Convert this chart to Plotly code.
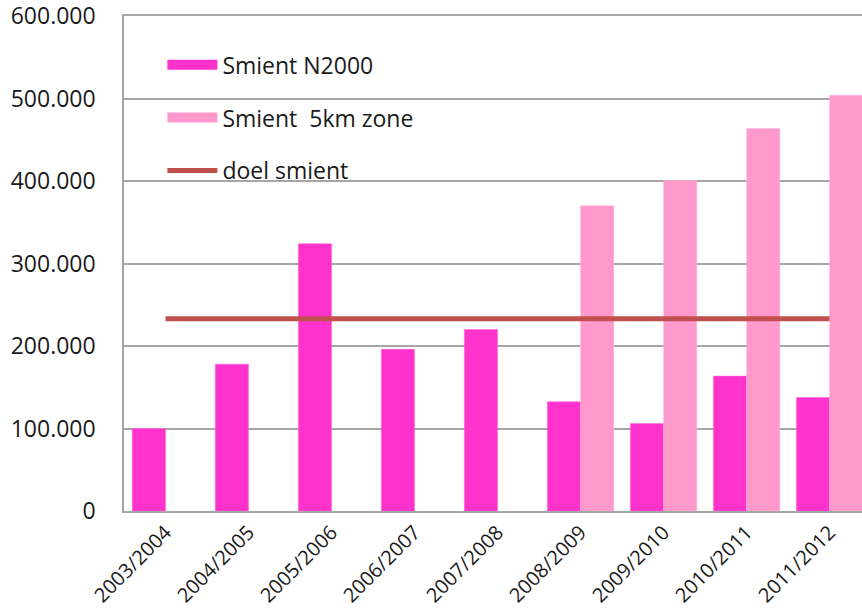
import plotly.graph_objects as go

seasons = ["2003/2004", "2004/2005", "2005/2006", "2006/2007", "2007/2008",
           "2008/2009", "2009/2010", "2010/2011", "2011/2012"]
smient_n2000 = [100000, 178000, 324000, 196000, 220000, 132500, 106000, 163500, 137500]
smient_5km = [None, None, None, None, None, 370000, 400500, 463500, 504000]
doel_smient = [233000] * 9
y_tickvals = [0, 100000, 200000, 300000, 400000, 500000, 600000]
y_ticktext = ["0", "100.000", "200.000", "300.000", "400.000", "500.000", "600.000"]

C_N2000 = "#FF33CC"
C_5KM = "#FF99CC"
C_DOEL = "#C0504D"
FONT = "Open Sans"

fig = go.Figure()
fig.add_trace(go.Bar(x=seasons, y=smient_n2000, name="Smient N2000",
                     marker=dict(color=C_N2000, line=dict(color="#FF66DD", width=0.5)),
                     showlegend=False))
fig.add_trace(go.Bar(x=seasons, y=smient_5km, name="Smient  5km zone",
                     marker=dict(color=C_5KM, line=dict(color="#FFB8DD", width=0.5)),
                     showlegend=False))
fig.add_trace(go.Scatter(x=seasons, y=doel_smient, name="doel smient", mode="lines",
                         line=dict(color=C_DOEL, width=5), showlegend=False))

# legend entries (wide swatches like the original)
fig.add_trace(go.Scatter(x=[None], y=[None], mode="lines", name="Smient N2000",
                         line=dict(color=C_N2000, width=15), legendgroup="a"))
fig.add_trace(go.Scatter(x=[None], y=[None], mode="lines", name="Smient  5km zone",
                         line=dict(color=C_5KM, width=15), legendgroup="b"))
fig.add_trace(go.Scatter(x=[None], y=[None], mode="lines", name="doel smient",
                         line=dict(color=C_DOEL, width=5), legendgroup="c"))

fig.update_layout(
    width=862, height=608,
    margin=dict(l=124, r=0, t=16, b=97),
    paper_bgcolor="white", plot_bgcolor="white",
    font=dict(family=FONT, color="#1a1a1a"),
    barmode="group", bargap=0.2, bargroupgap=0,
    legend=dict(x=0.052, y=0.945, xanchor="left", yanchor="top",
                bgcolor="rgba(0,0,0,0)", font=dict(size=23, family=FONT, color="#1a1a1a"),
                itemwidth=50, tracegroupgap=20, traceorder="grouped"),
    xaxis=dict(type="category", range=[-0.5, 8.39], tickangle=-45,
               tickfont=dict(size=20, family=FONT, color="#1a1a1a"),
               showline=True, linecolor="#A6A6A6", linewidth=1.5, mirror=True,
               showgrid=False, ticks="", fixedrange=True, automargin=False,
               ticklabeloverflow="allow"),
    yaxis=dict(range=[0, 600000], tickvals=y_tickvals, ticktext=y_ticktext,
               tickfont=dict(size=23, family=FONT, color="#1a1a1a"),
               showline=True, linecolor="#A6A6A6", linewidth=1.5,
               showgrid=True, gridcolor="#A6A6A6", gridwidth=1.5,
               zeroline=False, ticks="", ticklabelstandoff=22, automargin=False,
               ticklabeloverflow="allow"),
)

# remove the browser's default 8px page margin so the figure fills the window
fig.write_html("out.html",
               config={"displayModeBar": False},
               post_script="document.body.style.margin='0';document.body.style.overflow='hidden';")
